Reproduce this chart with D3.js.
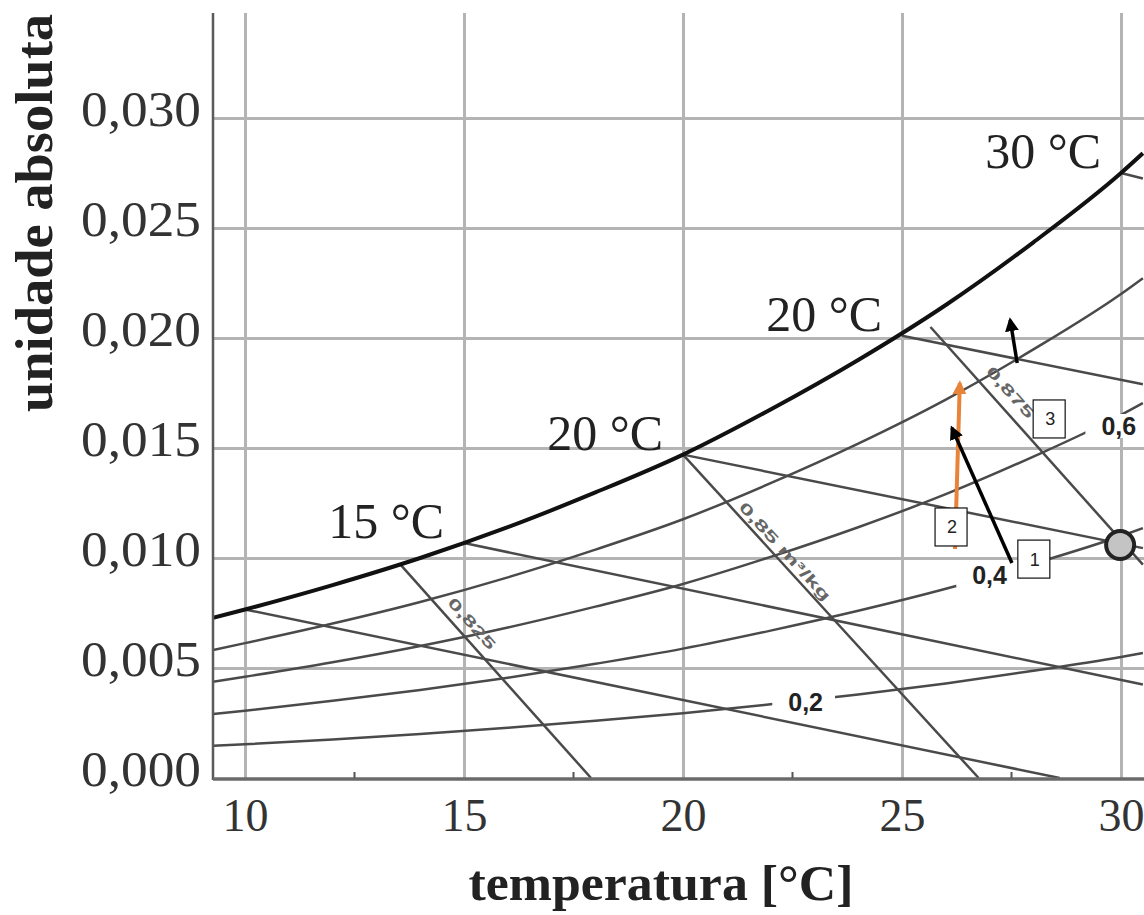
<!DOCTYPE html>
<html>
<head>
<meta charset="utf-8">
<script src="https://cdn.jsdelivr.net/npm/d3@7"></script>
<style>
  body { margin: 0; background: #fff; }
  svg { display: block; }
</style>
</head>
<body>
<div id="chart"></div>
<script>
const WIDTH = 1144, HEIGHT = 915;
const PLOT = { LEFT: 213, RIGHT: 1144, TOP: 13, BOTTOM: 778 };

// axis ticks
const xTicks = [10, 15, 20, 25, 30];
const xMinorTicks = [12.5, 17.5, 22.5, 27.5];
const yTicks = [0, 0.005, 0.010, 0.015, 0.020, 0.025, 0.030];

// temperatures (°C) where the humidity curves were read
const temps = [9.27, 10, 12, 14, 16, 18, 20, 22, 24, 26, 28, 30, 30.5];
// absolute humidity at saturation and at relative humidity 0.8 / 0.6 / 0.4 / 0.2
const satW = [0.00728, 0.00766, 0.00877, 0.01000, 0.01140, 0.01298, 0.01470, 0.01675, 0.01900, 0.02150, 0.02435, 0.02750, 0.02840];
const rh80 = [0.00582, 0.00613, 0.00702, 0.00800, 0.00912, 0.01038, 0.01176, 0.01340, 0.01520, 0.01720, 0.01948, 0.02200, 0.02272];
const rh60 = [0.00437, 0.00460, 0.00526, 0.00600, 0.00684, 0.00779, 0.00882, 0.01005, 0.01140, 0.01290, 0.01461, 0.01650, 0.01704];
const rh40 = [0.00291, 0.00306, 0.00351, 0.00400, 0.00456, 0.00519, 0.00588, 0.00670, 0.00760, 0.00860, 0.00974, 0.01100, 0.01136];
const rh20 = [0.00146, 0.00153, 0.00175, 0.00200, 0.00228, 0.00260, 0.00294, 0.00335, 0.00380, 0.00430, 0.00487, 0.00550, 0.00568];

// labels on the relative humidity curves
const rhLabels = ["0,2", "0,4", "0,6"];
const rhLabelT = [22.8, 27.0, 29.95];
const rhLabelW = [0.00345, 0.00923, 0.0160];

// wet bulb lines: start on the saturation curve, end point
const wbStartT = [10, 15, 20, 25, 30];
const wbStartW = [0.00766, 0.01068, 0.01470, 0.02010, 0.02750];
const wbEndT = [28.6, 30.5, 30.5, 30.5, 30.5];
const wbEndW = [0, 0.00425, 0.01045, 0.01790, 0.02725];

// specific volume lines
const volLabels = ["0,825", "0,85 m³/kg", "0,875"];
const volStartT = [13.55, 20, 25.65];
const volStartW = [0.00970, 0.01470, 0.02050];
const volEndT = [17.9, 26.75, 30.5];
const volEndW = [0, 0, 0.0097];

// temperature labels along the saturation curve
const satLabels = ["15 °C", "20 °C", "20 °C", "30 °C"];
const satLabelT = [15, 20, 25, 30];
const satLabelW = [0.01068, 0.01470, 0.02010, 0.02750];

// annotations: state point, arrows and numbered boxes
const point = [29.98, 0.01059];
const arrows = [
  { from: [26.21, 0.01041], to: [26.32, 0.01795], color: "#e8833a" },
  { from: [27.51, 0.00977], to: [26.14, 0.01591], color: "#000" },
  { from: [27.63, 0.01886], to: [27.47, 0.02082], color: "#000" }
];
const boxLabels = ["1", "2", "3"];
const boxT = [28.01, 26.12, 28.36];
const boxW = [0.00995, 0.01141, 0.01632];

const GRID = "#b4b4b4";
const LINE = "#4a4a4a";
const SERIF = "'Liberation Serif', 'DejaVu Serif', serif";
const SANS = "'Liberation Sans', Arial, sans-serif";

const svg = d3.select("#chart").append("svg")
  .attr("width", WIDTH)
  .attr("height", HEIGHT);

svg.append("rect").attr("width", WIDTH).attr("height", HEIGHT).attr("fill", "#fff");

const x = d3.scaleLinear().domain([10, 30]).range([245, 1121]);
const y = d3.scaleLinear().domain([0, 0.030]).range([778, 118]);

svg.append("defs").append("clipPath").attr("id", "plot")
  .append("rect")
    .attr("x", PLOT.LEFT).attr("y", PLOT.TOP)
    .attr("width", PLOT.RIGHT - PLOT.LEFT).attr("height", PLOT.BOTTOM - PLOT.TOP + 2);

// grid
svg.append("g")
  .attr("transform", `translate(0, ${PLOT.BOTTOM})`)
  .call(d3.axisBottom(x).tickValues(xTicks).tickSize(-(PLOT.BOTTOM - PLOT.TOP)).tickFormat(""))
  .call(g => g.select(".domain").remove())
  .selectAll("line").attr("stroke", GRID).attr("stroke-width", 3);

svg.append("g")
  .attr("transform", `translate(${PLOT.LEFT}, 0)`)
  .call(d3.axisLeft(y).tickValues(yTicks.slice(1)).tickSize(-(PLOT.RIGHT - PLOT.LEFT)).tickFormat(""))
  .call(g => g.select(".domain").remove())
  .selectAll("line").attr("stroke", GRID).attr("stroke-width", 3);

const plot = svg.append("g").attr("clip-path", "url(#plot)");
const line = d3.line().x(d => x(d[0])).y(d => y(d[1]));
const curve = d3.line().x(d => x(d[0])).y(d => y(d[1])).curve(d3.curveMonotoneX);

// relative humidity curves
[rh20, rh40, rh60, rh80].forEach(ws => {
  plot.append("path")
    .attr("d", curve(d3.zip(temps, ws)))
    .attr("fill", "none")
    .attr("stroke", LINE)
    .attr("stroke-width", 2.5);
});

// wet bulb lines
wbStartT.forEach((t, i) => {
  plot.append("path")
    .attr("d", line([[t, wbStartW[i]], [wbEndT[i], wbEndW[i]]]))
    .attr("stroke", LINE)
    .attr("stroke-width", 2.5);
});

// specific volume lines with their labels
const volOffset = [14, 10, 16];
volStartT.forEach((t, i) => {
  const p0 = [x(t), y(volStartW[i])];
  const p1 = [x(volEndT[i]), y(volEndW[i])];
  plot.append("path")
    .attr("d", line([[t, volStartW[i]], [volEndT[i], volEndW[i]]]))
    .attr("stroke", LINE)
    .attr("stroke-width", 2.5);

  const dx = p1[0] - p0[0], dy = p1[1] - p0[1];
  const len = Math.hypot(dx, dy);
  const ux = dx / len, uy = dy / len;
  const f = 0.32 * len;
  const cx = p0[0] + ux * f + uy * volOffset[i];
  const cy = p0[1] + uy * f - ux * volOffset[i];
  const ang = Math.atan2(dy, dx) * 180 / Math.PI;
  plot.append("text")
    .attr("transform", `translate(${cx}, ${cy}) rotate(${ang})`)
    .attr("text-anchor", "middle")
    .attr("dy", "0.35em")
    .attr("font-family", SANS)
    .attr("font-size", 15)
    .attr("font-weight", "bold")
    .attr("fill", "#666")
    .attr("textLength", i === 1 ? 128 : 64)
    .attr("lengthAdjust", "spacingAndGlyphs")
    .text(volLabels[i]);
});

// saturation curve
plot.append("path")
  .attr("d", curve(d3.zip(temps, satW)))
  .attr("fill", "none")
  .attr("stroke", "#111")
  .attr("stroke-width", 4);

// relative humidity labels, on a white patch that breaks the curve
rhLabels.forEach((txt, i) => {
  const g = plot.append("g");
  const bg = g.append("rect").attr("fill", "#fff");
  const t = g.append("text")
    .attr("x", x(rhLabelT[i]))
    .attr("y", y(rhLabelW[i]))
    .attr("text-anchor", "middle")
    .attr("dy", "0.36em")
    .attr("font-family", SANS)
    .attr("font-size", 25)
    .attr("font-weight", "bold")
    .attr("fill", "#222")
    .text(txt);
  const b = t.node().getBBox();
  bg.attr("x", b.x - 16).attr("y", b.y + 2).attr("width", b.width + 28).attr("height", b.height - 4);
});

// axes
svg.append("line")
  .attr("x1", PLOT.LEFT).attr("x2", PLOT.LEFT)
  .attr("y1", PLOT.TOP).attr("y2", PLOT.BOTTOM + 2)
  .attr("stroke", "#5a5a5a").attr("stroke-width", 2.5);

svg.append("line")
  .attr("x1", PLOT.LEFT).attr("x2", PLOT.RIGHT)
  .attr("y1", PLOT.BOTTOM + 1).attr("y2", PLOT.BOTTOM + 1)
  .attr("stroke", "#6a6a6a").attr("stroke-width", 3.5);

svg.selectAll(".minor")
  .data(xMinorTicks)
  .join("line")
    .attr("x1", d => x(d)).attr("x2", d => x(d))
    .attr("y1", PLOT.BOTTOM).attr("y2", PLOT.BOTTOM - 6)
    .attr("stroke", "#555").attr("stroke-width", 2);

const xAxis = svg.append("g")
  .attr("transform", `translate(0, ${PLOT.BOTTOM})`)
  .call(d3.axisBottom(x).tickValues(xTicks).tickSize(0).tickPadding(20));
xAxis.select(".domain").remove();
xAxis.selectAll("text")
  .attr("font-family", SERIF)
  .attr("font-size", 46)
  .attr("fill", "#333");

const yAxis = svg.append("g")
  .attr("transform", `translate(${PLOT.LEFT}, 0)`)
  .call(d3.axisLeft(y).tickValues(yTicks).tickSize(0).tickPadding(12)
    .tickFormat(d => d3.format(".3f")(d).replace(".", ",")));
yAxis.select(".domain").remove();
yAxis.selectAll("text")
  .attr("font-family", SERIF)
  .attr("font-size", 50)
  .attr("dy", "0.14em")
  .attr("textLength", 120)
  .attr("lengthAdjust", "spacingAndGlyphs")
  .attr("fill", "#333");

// axis titles
svg.append("text")
  .attr("x", 661)
  .attr("y", 900)
  .attr("text-anchor", "middle")
  .attr("font-family", SERIF)
  .attr("font-weight", "bold")
  .attr("font-size", 50)
  .attr("textLength", 385)
  .attr("lengthAdjust", "spacingAndGlyphs")
  .attr("fill", "#222")
  .text("temperatura [°C]");

svg.append("text")
  .attr("transform", "translate(52, 213) rotate(-90)")
  .attr("text-anchor", "middle")
  .attr("font-family", SERIF)
  .attr("font-weight", "bold")
  .attr("font-size", 52)
  .attr("textLength", 398)
  .attr("lengthAdjust", "spacingAndGlyphs")
  .attr("fill", "#222")
  .text("unidade absoluta");

// temperature labels on the saturation curve
satLabels.forEach((txt, i) => {
  svg.append("text")
    .attr("x", x(satLabelT[i]) - 20)
    .attr("y", y(satLabelW[i]) - 5)
    .attr("text-anchor", "end")
    .attr("font-family", SERIF)
    .attr("font-size", 50)
    .attr("fill", "#222")
    .text(txt);
});

// arrows
const defs = svg.select("defs");
arrows.forEach((a, i) => {
  defs.append("marker")
    .attr("id", "head" + i)
    .attr("viewBox", "0 0 10 10")
    .attr("refX", 8).attr("refY", 5)
    .attr("markerWidth", 14).attr("markerHeight", 14)
    .attr("markerUnits", "userSpaceOnUse")
    .attr("orient", "auto")
    .append("path")
      .attr("d", "M0,0 L10,5 L0,10 z")
      .attr("fill", a.color);
  svg.append("path")
    .attr("d", line([a.from, a.to]))
    .attr("stroke", a.color)
    .attr("stroke-width", i === 0 ? 4 : 3.5)
    .attr("marker-end", `url(#head${i})`);
});

// state point
svg.append("circle")
  .attr("cx", x(point[0]))
  .attr("cy", y(point[1]))
  .attr("r", 14)
  .attr("fill", "#c4c4c4")
  .attr("stroke", "#222")
  .attr("stroke-width", 4);

// numbered boxes
boxLabels.forEach((txt, i) => {
  const cx = x(boxT[i]), cy = y(boxW[i]);
  svg.append("rect")
    .attr("x", cx - 16).attr("y", cy - 19)
    .attr("width", 32).attr("height", 38)
    .attr("fill", "#fff")
    .attr("stroke", "#111")
    .attr("stroke-width", 1.2);
  svg.append("text")
    .attr("x", cx + 1).attr("y", cy)
    .attr("dy", "0.36em")
    .attr("text-anchor", "middle")
    .attr("font-family", SANS)
    .attr("font-size", 18)
    .attr("fill", "#222")
    .text(txt);
});
</script>
</body>
</html>
